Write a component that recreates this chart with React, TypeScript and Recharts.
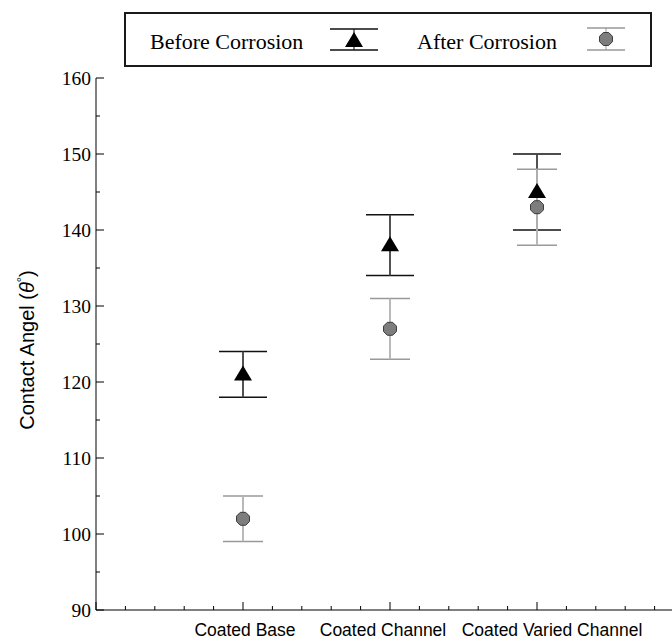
import { ScatterChart, Scatter, XAxis, YAxis, ErrorBar } from 'recharts';

// categories sit at x = 1, 2, 3 on a numeric axis running 0..4 (the right end is cropped)
const categories = ['Coated Base', 'Coated Channel', 'Coated Varied Channel'];
const categoryPos = [1, 2, 3];

const seriesNames = ['Before Corrosion', 'After Corrosion'];
const beforeAngle = [121, 138, 145];
const beforeErr = [3, 4, 5];
const afterAngle = [102, 127, 143];
const afterErr = [3, 4, 5];

const xTicks = [0, 0.2, 0.4, 0.6, 0.8, 1, 1.2, 1.4, 1.6, 1.8, 2, 2.2, 2.4, 2.6, 2.8, 3, 3.2, 3.4, 3.6, 3.8, 4];
const yTicks = [90, 95, 100, 105, 110, 115, 120, 125, 130, 135, 140, 145, 150, 155, 160];

const SERIF = '"Liberation Serif", "Times New Roman", serif';
const SANS = '"Liberation Sans", Arial, sans-serif';

// the original labels are not centred on their ticks; nudge them so they don't collide
const LABEL_NUDGE = [2, -7, 15];

const beforeData = categoryPos.map((x, i) => ({ x, y: beforeAngle[i], err: beforeErr[i] }));
const afterData = categoryPos.map((x, i) => ({ x, y: afterAngle[i], err: afterErr[i] }));

const Triangle = ({ cx, cy }: any) => (
    <polygon points={`${cx},${cy - 9} ${cx - 9},${cy + 6} ${cx + 9},${cy + 6}`} fill="#000" />
);

const Octagon = ({ cx, cy }: any) => {
    const r = 7;
    const pts = [];
    for (let k = 0; k < 8; k++) {
        const a = (Math.PI / 8) * (2 * k + 1);
        pts.push(`${cx + r * Math.cos(a)},${cy + r * Math.sin(a)}`);
    }
    return <polygon points={pts.join(' ')} fill="#7d7d7d" stroke="#3a3a3a" strokeWidth={1} />;
};

// ticks point inward; tickSize/tickMargin are 0 so (x, y) is on the axis line
const BottomTick = ({ x, y, payload }: any) => {
    const v = payload.value;
    const major = Number.isInteger(v);
    const idx = categoryPos.indexOf(v);
    return (
        <g>
            <line x1={x} x2={x} y1={y} y2={y - (major ? 8 : 4)} stroke="#000" strokeWidth={1} />
            {idx >= 0 && (
                <text
                    x={x + LABEL_NUDGE[idx]}
                    y={y + 26}
                    textAnchor="middle"
                    fontFamily={SANS}
                    fontSize={17.5}
                    fill="#000"
                >
                    {categories[idx]}
                </text>
            )}
        </g>
    );
};

const TopTick = ({ x, y, payload }: any) => {
    const major = Number.isInteger(payload.value);
    return <line x1={x} x2={x} y1={y} y2={y + (major ? 8 : 4)} stroke="#000" strokeWidth={1} />;
};

const LeftTick = ({ x, y, payload }: any) => {
    const major = payload.value % 10 === 0;
    return (
        <g>
            <line x1={x} x2={x + (major ? 8 : 4)} y1={y} y2={y} stroke="#000" strokeWidth={1} />
            {major && (
                <text x={x - 5} y={y} dy="0.35em" textAnchor="end" fontFamily={SERIF} fontSize={19.5} fill="#000">
                    {payload.value}
                </text>
            )}
        </g>
    );
};

const AngleLabel = ({ viewBox }: any) => {
    const cx = viewBox.x + 27;
    const cy = viewBox.y + viewBox.height / 2 + 6;
    return (
        <text
            transform={`translate(${cx},${cy}) rotate(-90)`}
            textAnchor="middle"
            dominantBaseline="central"
            fontFamily={SANS}
            fontSize={20}
            fill="#000"
        >
            Contact Angel (<tspan fontStyle="italic">θ</tspan>
            <tspan dy={-6} fontSize={13}>°</tspan>
            <tspan dy={6}>)</tspan>
        </text>
    );
};

const LegendBox = () => (
    <svg width={672} height={70} style={{ position: 'absolute', left: 0, top: 0 }}>
        <rect x={125} y={13} width={526} height={53} fill="#fff" stroke="#1a1a1a" strokeWidth={2} />
        <text x={150} y={48.5} fontFamily={SERIF} fontSize={22} fill="#000">{seriesNames[0]}</text>
        <line x1={354} x2={354} y1={29} y2={50} stroke="#555" strokeWidth={1.5} />
        <line x1={330} x2={378} y1={29} y2={29} stroke="#111" strokeWidth={1.5} />
        <line x1={330} x2={378} y1={50} y2={50} stroke="#111" strokeWidth={1.5} />
        <Triangle cx={354} cy={41} />
        <text x={417} y={48.5} fontFamily={SERIF} fontSize={22} fill="#000">{seriesNames[1]}</text>
        <line x1={606} x2={606} y1={28} y2={50} stroke="#bbb" strokeWidth={1.5} />
        <line x1={587} x2={625} y1={28} y2={28} stroke="#999" strokeWidth={1.5} />
        <line x1={587} x2={625} y1={50} y2={50} stroke="#999" strokeWidth={1.5} />
        <Octagon cx={606} cy={39} />
    </svg>
);

export default function App() {
    return (
        <div style={{ position: 'absolute', left: 0, top: 0, width: 672, height: 639, overflow: 'hidden', background: '#fff' }}>
            <ScatterChart width={700} height={639} margin={{ top: 78, right: 16, bottom: 0, left: 0 }}>
                <XAxis
                    type="number"
                    dataKey="x"
                    domain={[0, 4]}
                    ticks={xTicks}
                    interval={0}
                    height={29}
                    tickSize={0}
                    tickMargin={0}
                    tickLine={false}
                    tick={<BottomTick />}
                    axisLine={{ stroke: '#000', strokeWidth: 1 }}
                    allowDataOverflow
                />
                <XAxis
                    xAxisId="top"
                    orientation="top"
                    type="number"
                    dataKey="x"
                    domain={[0, 4]}
                    ticks={xTicks}
                    interval={0}
                    height={0}
                    tickSize={0}
                    tickMargin={0}
                    tickLine={false}
                    tick={<TopTick />}
                    axisLine={{ stroke: '#000', strokeWidth: 1 }}
                    allowDataOverflow
                />
                <YAxis
                    type="number"
                    dataKey="y"
                    domain={[90, 160]}
                    ticks={yTicks}
                    interval={0}
                    width={96}
                    tickSize={0}
                    tickMargin={0}
                    tickLine={false}
                    tick={<LeftTick />}
                    axisLine={{ stroke: '#000', strokeWidth: 1 }}
                    label={<AngleLabel />}
                    allowDataOverflow
                />
                <Scatter name={seriesNames[0]} data={beforeData} shape={<Triangle />} isAnimationActive={false}>
                    <ErrorBar dataKey="err" direction="y" width={24} stroke="#111" strokeWidth={1.5} isAnimationActive={false} />
                    <ErrorBar dataKey="err" direction="y" width={0} stroke="#555" strokeWidth={1.5} isAnimationActive={false} />
                </Scatter>
                <Scatter name={seriesNames[1]} data={afterData} shape={<Octagon />} isAnimationActive={false}>
                    <ErrorBar dataKey="err" direction="y" width={20} stroke="#999" strokeWidth={1.5} isAnimationActive={false} />
                    <ErrorBar dataKey="err" direction="y" width={0} stroke="#bbb" strokeWidth={1.5} isAnimationActive={false} />
                </Scatter>
            </ScatterChart>
            <LegendBox />
        </div>
    );
}
